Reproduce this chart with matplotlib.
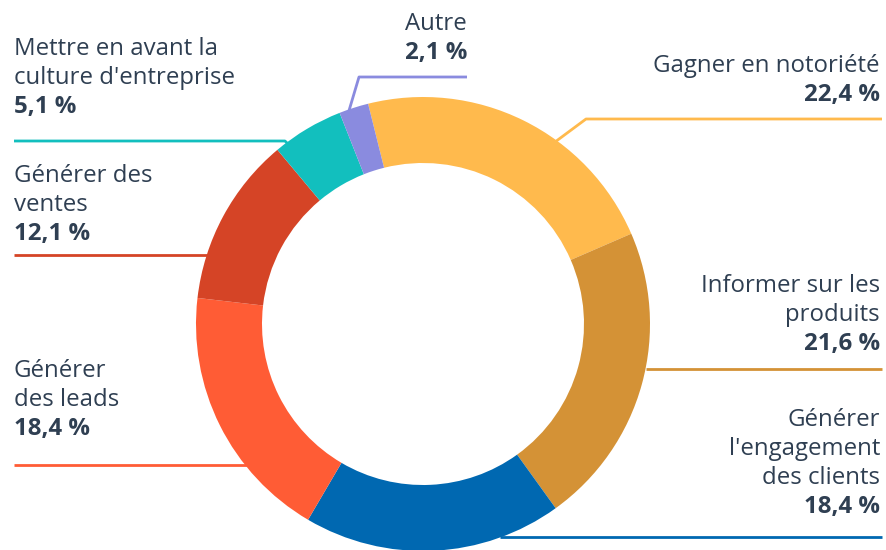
import matplotlib

matplotlib.use("Agg")
import matplotlib.pyplot as plt

W, H = 886, 550

labels = [
    "Gagner en notoriété",
    "Informer sur les\nproduits",
    "Générer\nl'engagement\ndes clients",
    "Générer\ndes leads",
    "Générer des\nventes",
    "Mettre en avant la\nculture d'entreprise",
    "Autre",
]
values = [22.4, 21.6, 18.4, 18.4, 12.1, 5.1, 2.1]
colors = ["#FFBA4D", "#D49236", "#0068B1", "#FF5C35", "#D54426", "#12BFBE", "#8A8BDF"]

TEXT = "#2F3F52"
FONT = ["Open Sans", "DejaVu Sans"]

# text anchor (x, y of first line, alignment) and leader polyline, all in pixels
label_pos = [
    (880, 66, "right"),
    (880, 286, "right"),
    (880, 420, "right"),
    (14, 371, "left"),
    (14, 176, "left"),
    (14, 49, "left"),
    (467, 24, "right"),
]
leaders = [
    [(555, 142), (586, 119), (882, 119)],
    [(646, 369), (882, 369)],
    [(500, 537), (882, 537)],
    [(14, 465), (250, 465)],
    [(14, 255), (215, 255)],
    [(14, 141), (285, 141), (290, 146)],
    [(348, 114), (359, 77), (467, 77)],
]


def py(y):
    return H - y


fig = plt.figure(figsize=(W / 100, H / 100), dpi=100)
ax = fig.add_axes([0, 0, 1, 1])

for pts, c in zip(leaders, colors):
    xs = [p[0] for p in pts]
    ys = [py(p[1]) for p in pts]
    ax.plot(xs, ys, color=c, lw=2.0, solid_capstyle="butt", zorder=1)

ax.pie(
    values,
    colors=colors,
    startangle=104,
    counterclock=False,
    center=(423, py(324)),
    radius=227,
    wedgeprops=dict(width=66, linewidth=0),
)

line_h = 29
for lab, v, (x, y, ha) in zip(labels, values, label_pos):
    lines = lab.split("\n")
    for i, ln in enumerate(lines):
        ax.text(x, py(y + i * line_h), ln, ha=ha, va="center", fontsize=17.3,
                color=TEXT, family=FONT)
    pct = f"{v:.1f}".replace(".", ",") + " %"
    ax.text(x, py(y + len(lines) * line_h), pct, ha=ha, va="center", fontsize=17.3,
            color=TEXT, family=FONT, fontweight="bold")

ax.set_xlim(0, W)
ax.set_ylim(0, H)
ax.set_aspect("auto")
ax.axis("off")

fig.savefig("out.png", dpi=100)
